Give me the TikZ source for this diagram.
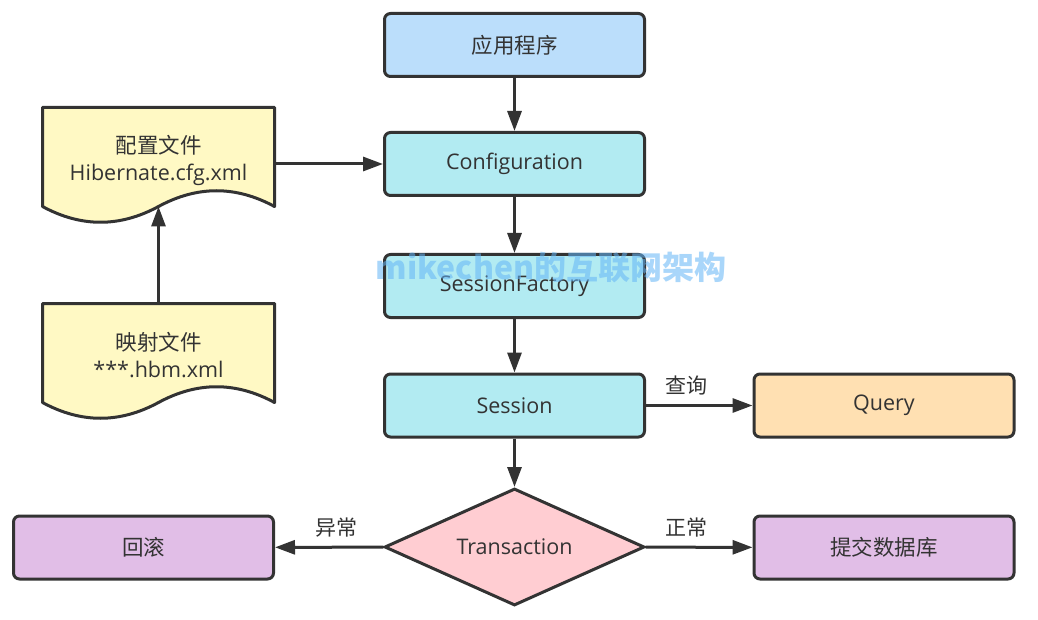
\documentclass[tikz,border=0pt]{standalone}
\usepackage{fontspec}
\setmainfont{Open Sans}
\newfontfamily\cjk{Noto Sans CJK SC}
\usetikzlibrary{arrows.meta,shapes.geometric}
\definecolor{edge}{HTML}{333333}
\definecolor{fblue}{HTML}{BBDEFB}
\definecolor{fcyan}{HTML}{B2EBF2}
\definecolor{forange}{HTML}{FFE0B2}
\definecolor{fpurple}{HTML}{E1BEE7}
\definecolor{fpink}{HTML}{FFCDD2}
\definecolor{fyellow}{HTML}{FFF9C4}
\definecolor{wm}{HTML}{64B5F6}
\begin{document}
\begin{tikzpicture}[x=1pt,y=-1pt,
  box/.style={draw=edge, line width=3pt, rounded corners=6pt, minimum width=260pt, minimum height=63pt, inner sep=0pt, text=edge, font=\fontsize{21.5}{27}\selectfont},
  docbox/.style={minimum width=232pt, minimum height=99pt, inner sep=0pt, align=center, text=edge, font=\fontsize{21.5}{27}\selectfont},
  docshape/.style={draw=edge, fill=fyellow, line width=3pt, line join=round},
  conn/.style={draw=edge, line width=3pt, -{Triangle[length=20pt,width=14pt]}},
  lbl/.style={text=edge, inner sep=0pt, font=\cjk\fontsize{21}{25}\selectfont}]
\useasboundingbox (0,0) rectangle (1038,620);
\fill[white] (0,0) rectangle (1038,620);

% document shapes
\path[docshape, shift={(42.5,107.5)}] (0,0) -- (232,0) -- (232,99) .. controls (193.3,78) and (154.7,78) .. (116,99) .. controls (77.3,120) and (38.7,120) .. (0,99) -- cycle;
\path[docshape, shift={(42.5,303.5)}] (0,0) -- (232,0) -- (232,99) .. controls (193.3,78) and (154.7,78) .. (116,99) .. controls (77.3,120) and (38.7,120) .. (0,99) -- cycle;
\node[docbox] (d1) at (158.5,160) {{\cjk 配置文件}\\Hibernate.cfg.xml};
\node[docbox] (d2) at (158.5,355) {{\cjk 映射文件}\\***.hbm.xml};
\coordinate (d1b) at (158.5,206.5);

% boxes
\node[box, fill=fblue] (app) at (514.5,45) {\cjk 应用程序};
\node[box, fill=fcyan] (cfg) at (514.5,164) {Configuration};
\node[box, fill=fcyan] (sf) at (514.5,286) {SessionFactory};
\node[box, fill=fcyan] (ses) at (514.5,405.5) {Session};
\node[box, fill=forange] (q) at (884,405.5) {Query};
\node[diamond, draw=edge, line width=3pt, fill=fpink, minimum width=260pt, minimum height=117pt, shape aspect=2.2, inner sep=0pt, text=edge, font=\fontsize{21.5}{27}\selectfont] (tx) at (514.5,547) {Transaction};
\node[box, fill=fpurple] (rb) at (143.5,547.5) {\cjk 回滚};
\node[box, fill=fpurple] (commit) at (884,547.5) {\cjk 提交数据库};

% connectors
\draw[conn] (app) -- (cfg);
\draw[conn] (d1.east |- cfg) -- (cfg.west);
\draw[conn] (d2.north |- 0,303.5) -- (d1b);
\draw[conn] (cfg) -- (sf);
\draw[conn] (sf) -- (ses);
\draw[conn] (ses) -- (tx);
\draw[conn] (ses) -- node[lbl, pos=0.38, above=9pt] {查询} (q);
\draw[conn] (tx) -- node[lbl, pos=0.435, above=9pt] {异常} (rb);
\draw[conn] (tx) -- node[lbl, pos=0.38, above=9pt] {正常} (commit);

% watermark
\node[text=wm, opacity=0.55, inner sep=0pt, font=\cjk\bfseries\fontsize{32}{36}\selectfont] (wmk) at (551,268) {mikechen的互联网架构};
\end{tikzpicture}
\end{document}
